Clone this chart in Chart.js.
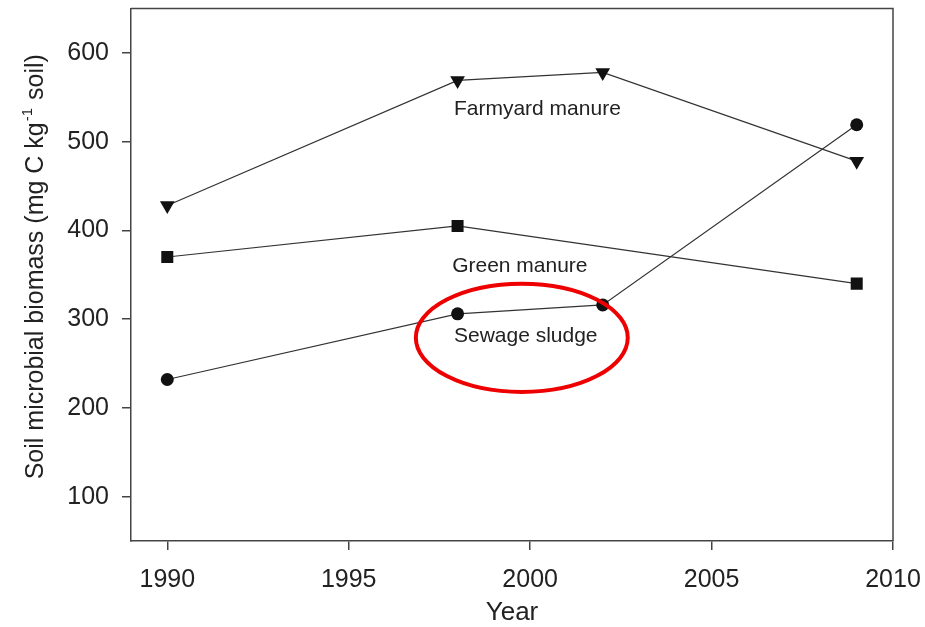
<!DOCTYPE html>
<html>
<head>
<meta charset="utf-8">
<script src="https://cdn.jsdelivr.net/npm/chart.js@4.4.1/dist/chart.umd.min.js"></script>
<style>
  html, body { margin: 0; padding: 0; background: #fff; }
  #wrap { width: 925px; height: 627px; }
</style>
</head>
<body>
<div id="wrap"><canvas id="myChart" width="925" height="627"></canvas></div>
<script>
// values
var anios = [1990, 1998, 2002, 2009];
var farmyard = [428, 569, 578, 478];
var green = [370, 405, null, 340];
var sewage = [232, 306, 316, 519];
var xTicks = [1990, 1995, 2000, 2005, 2010];
var yTicks = [100, 200, 300, 400, 500, 600];

var fuente = "'Liberation Sans', Arial, sans-serif";

function puntos(vals) {
  return anios.map(function (a, i) { return { x: a, y: vals[i] }; });
}

// y title by hand so the -1 can sit as a superscript
function tituloY(ctx, a) {
  var p1 = 'Soil microbial biomass (mg C kg', sup = '-1', p2 = ' soil)';
  ctx.save();
  ctx.fillStyle = '#222';
  ctx.textBaseline = 'alphabetic';
  ctx.textAlign = 'left';
  ctx.font = '25px ' + fuente;
  var w1 = ctx.measureText(p1).width, w3 = ctx.measureText(p2).width;
  ctx.font = '15px ' + fuente;
  var w2 = ctx.measureText(sup).width + 2;
  var total = w1 + w2 + w3;
  ctx.translate(43, (a.top + a.bottom) / 2 - 8);
  ctx.rotate(-Math.PI / 2);
  var x0 = -total / 2;
  ctx.font = '25px ' + fuente;
  ctx.fillText(p1, x0, 0);
  ctx.font = '15px ' + fuente;
  ctx.fillText(sup, x0 + w1 + 1, -11);
  ctx.font = '25px ' + fuente;
  ctx.fillText(p2, x0 + w1 + w2, 0);
  ctx.restore();
}

// frame, text labels and the red ring
var extras = {
  id: 'extras',
  afterDatasetsDraw: function (chart) {
    var ctx = chart.ctx, a = chart.chartArea;
    var xs = chart.scales.x, ys = chart.scales.y;
    ctx.save();
    ctx.strokeStyle = '#444';
    ctx.lineWidth = 1.5;
    ctx.beginPath();
    ctx.moveTo(a.left, a.top);
    ctx.lineTo(a.right, a.top);
    ctx.lineTo(a.right, a.bottom);
    ctx.stroke();

    ctx.fillStyle = '#222';
    ctx.font = '21px ' + fuente;
    ctx.textAlign = 'left';
    ctx.textBaseline = 'middle';
    ctx.fillText('Farmyard manure', xs.getPixelForValue(1997.9), ys.getPixelForValue(537));
    ctx.fillText('Green manure', xs.getPixelForValue(1997.85), ys.getPixelForValue(360));
    ctx.fillText('Sewage sludge', xs.getPixelForValue(1997.9), ys.getPixelForValue(281));

    var cx = xs.getPixelForValue(1999.77), cy = ys.getPixelForValue(279);
    var rx = xs.getPixelForValue(1999.77 + 2.92) - cx;
    var ry = cy - ys.getPixelForValue(279 + 61);
    ctx.strokeStyle = '#ee0000';
    ctx.lineWidth = 4;
    ctx.beginPath();
    ctx.ellipse(cx, cy, rx, ry, 0, 0, Math.PI * 2);
    ctx.stroke();
    ctx.restore();

    tituloY(ctx, a);
  }
};

function serie(nombre, vals, forma, radio, rot) {
  return {
    label: nombre,
    data: puntos(vals),
    borderColor: '#333',
    borderWidth: 1.2,
    backgroundColor: '#111',
    pointBackgroundColor: '#111',
    pointBorderColor: '#111',
    pointBorderWidth: 0,
    pointStyle: forma,
    pointRadius: radio,
    pointRotation: rot,
    spanGaps: true,
    tension: 0
  };
}

function sinPadding(s) {
  s.paddingLeft = 0; s.paddingRight = 0; s.paddingTop = 0; s.paddingBottom = 0;
}

var chart = new Chart('myChart', {
  type: 'line',
  data: {
    datasets: [
      serie('Farmyard manure', farmyard, 'triangle', 8.5, 180),
      serie('Green manure', green, 'rect', 8.5, 0),
      serie('Sewage sludge', sewage, 'circle', 6.5, 0)
    ]
  },
  options: {
    responsive: false,
    animation: false,
    layout: { padding: { left: 0, top: 8, right: 32, bottom: 0 } },
    plugins: { legend: { display: false }, tooltip: { enabled: false } },
    scales: {
      x: {
        type: 'linear',
        min: 1989,
        max: 2010,
        afterBuildTicks: function (s) { s.ticks = xTicks.map(function (v) { return { value: v }; }); },
        afterFit: function (s) { s.height = 86; sinPadding(s); },
        grid: { drawOnChartArea: false, tickLength: 9, color: '#444', lineWidth: 1.5 },
        border: { display: true, color: '#444', width: 1.5 },
        ticks: {
          padding: 15, color: '#222', font: { family: fuente, size: 25 }, maxRotation: 0,
          callback: function (v) { return String(v); }
        },
        title: { display: true, text: 'Year', color: '#222', padding: { top: 0, bottom: 0 }, font: { family: fuente, size: 26, lineHeight: 1.1 } }
      },
      y: {
        min: 50,
        max: 650,
        afterBuildTicks: function (s) { s.ticks = yTicks.map(function (v) { return { value: v }; }); },
        afterFit: function (s) { s.width = 131; sinPadding(s); },
        grid: { drawOnChartArea: false, tickLength: 9, color: '#444', lineWidth: 1.5 },
        border: { display: true, color: '#444', width: 1.5 },
        ticks: { padding: 13, color: '#222', font: { family: fuente, size: 25 } },
        title: { display: false }
      }
    }
  },
  plugins: [extras]
});
</script>
</body>
</html>
